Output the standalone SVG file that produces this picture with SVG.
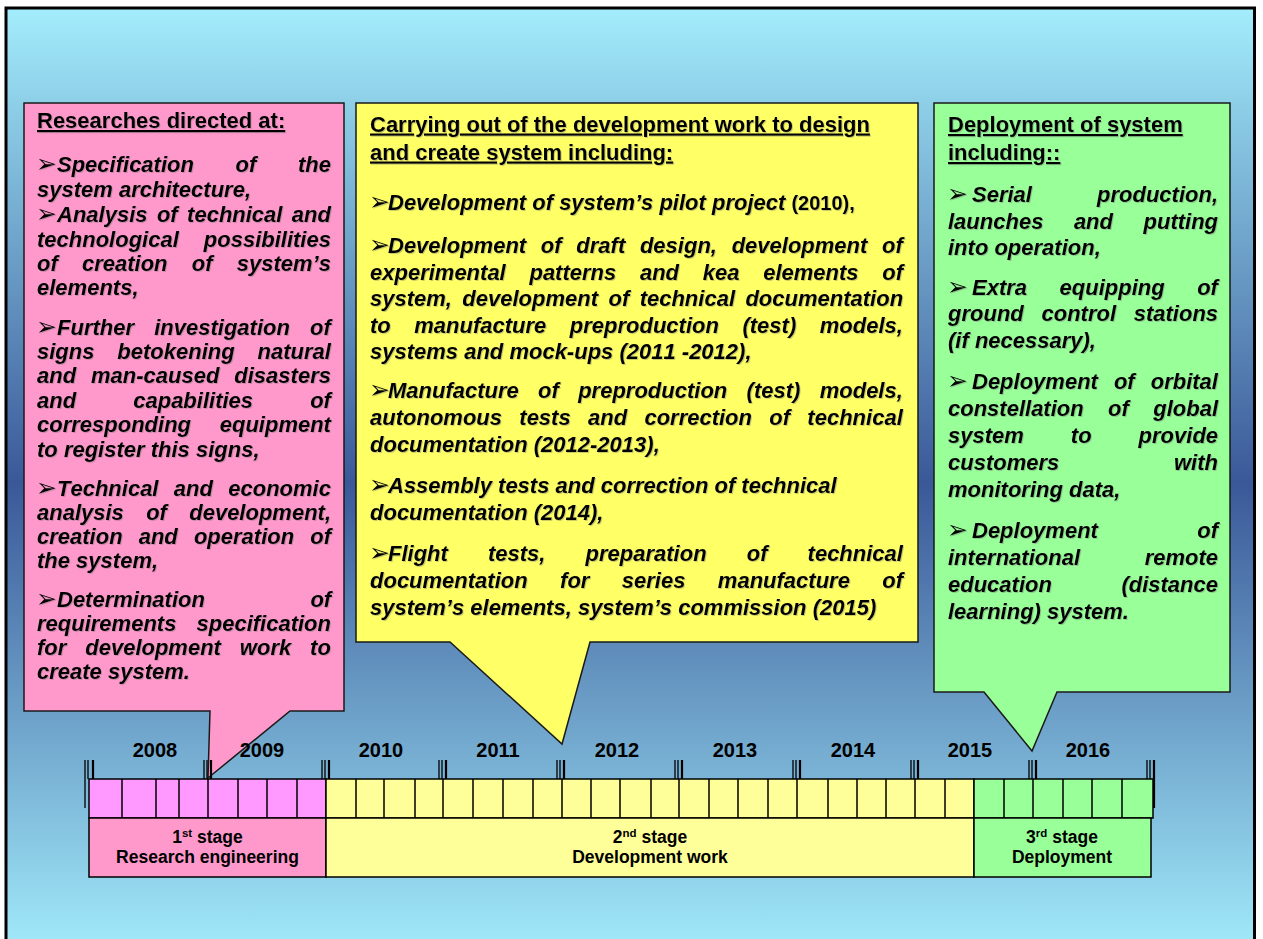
<svg xmlns="http://www.w3.org/2000/svg" width="1263" height="939" viewBox="0 0 1263 939">
<defs>
<linearGradient id="bg" x1="0" y1="0" x2="0" y2="1">
<stop offset="0" stop-color="#A3EDFC"/>
<stop offset="0.5" stop-color="#3A5898"/>
<stop offset="1" stop-color="#A3EDFC"/>
</linearGradient>
<filter id="sh" x="-5%" y="-5%" width="110%" height="110%">
<feDropShadow dx="1" dy="1" stdDeviation="0.6" flood-color="#666" flood-opacity="0.35"/>
</filter>
<style>
.t{font-family:"Liberation Sans",Arial,sans-serif;font-size:22px;font-weight:bold;font-style:italic;fill:#000;font-kerning:none}
.h{font-family:"Liberation Sans",Arial,sans-serif;font-size:22px;font-weight:bold;fill:#000;text-decoration:underline;font-kerning:none}
.b{font-family:"DejaVu Sans",sans-serif;font-size:25px;fill:#000}
.yr{font-family:"Liberation Sans",Arial,sans-serif;font-size:20px;font-weight:bold;fill:#000;text-anchor:middle}
.st{font-family:"Liberation Sans",Arial,sans-serif;font-size:17.5px;font-weight:bold;fill:#000;text-anchor:middle}
.box{stroke:#1a1a1a;stroke-width:1.5;stroke-linejoin:miter}
.cell{stroke:#000;stroke-width:1.5}
.tk{stroke:#000;stroke-width:1.3}
.tk2{stroke:#000;stroke-width:2.2}
</style>
</defs>
<rect x="6" y="8" width="1248.5" height="950" fill="url(#bg)" stroke="#000" stroke-width="3"/>

<g id="connectors"></g>

<g id="stage1-callout">
<path class="box" fill="#FF99CC" d="M24,103 H344 V711 H290 L208,778 L210,711 H24 Z"/>
<g filter="url(#sh)">
<text class="h" x="37" y="128">Researches directed at:</text>
<text class="b" x="36" y="172">➢</text><text class="t" x="57" y="172" word-spacing="35.5">Specification of the</text>
<text class="t" x="37" y="197">system architecture,</text>
<text class="b" x="36" y="222">➢</text><text class="t" x="57" y="222" word-spacing="3.3">Analysis of technical and</text>
<text class="t" x="37" y="247" word-spacing="18.9">technological possibilities</text>
<text class="t" x="37" y="271" word-spacing="18.1">of creation of system’s</text>
<text class="t" x="37" y="295">elements,</text>
<text class="b" x="36" y="335">➢</text><text class="t" x="57" y="335" word-spacing="14.1">Further investigation of</text>
<text class="t" x="37" y="359" word-spacing="16.8">signs betokening natural</text>
<text class="t" x="37" y="383" word-spacing="8.8">and man-caused disasters</text>
<text class="t" x="37" y="408" word-spacing="51">and capabilities of</text>
<text class="t" x="37" y="432" word-spacing="22.6">corresponding equipment</text>
<text class="t" x="37" y="457">to register this signs,</text>
<text class="b" x="36" y="496">➢</text><text class="t" x="57" y="496" word-spacing="9.2">Technical and economic</text>
<text class="t" x="37" y="520" word-spacing="16.2">analysis of development,</text>
<text class="t" x="37" y="544" word-spacing="10">creation and operation of</text>
<text class="t" x="37" y="568">the system,</text>
<text class="b" x="36" y="607">➢</text><text class="t" x="57" y="607" word-spacing="99.4">Determination of</text>
<text class="t" x="37" y="631" word-spacing="14">requirements specification</text>
<text class="t" x="37" y="655" word-spacing="12.8">for development work to</text>
<text class="t" x="37" y="679">create system.</text>
</g>
</g>

<g id="stage2-callout">
<path class="box" fill="#FFFF66" d="M356,103 H918 V642 H590 L562,744 L450,642 H356 Z"/>
<g filter="url(#sh)">
<text class="h" x="370" y="131.5">Carrying out of the development work to design</text>
<text class="h" x="370" y="159.5">and create system including:</text>
<text class="b" x="369" y="210">➢</text><text class="t" x="388" y="210">Development of system’s pilot project <tspan font-style="normal" font-size="20">(2010),</tspan></text>
<text class="b" x="369" y="253">➢</text><text class="t" x="388" y="253" word-spacing="8.6">Development of draft design, development of</text>
<text class="t" x="370" y="280" word-spacing="17.6">experimental patterns and kea elements of</text>
<text class="t" x="370" y="306" word-spacing="4.3">system, development of technical documentation</text>
<text class="t" x="370" y="333" word-spacing="17.4">to manufacture preproduction (test) models,</text>
<text class="t" x="370" y="359">systems and mock-ups (2011 -2012),</text>
<text class="b" x="369" y="398">➢</text><text class="t" x="388" y="398" word-spacing="13.2">Manufacture of preproduction (test) models,</text>
<text class="t" x="370" y="425" word-spacing="11.2">autonomous tests and correction of technical</text>
<text class="t" x="370" y="452">documentation (2012-2013),</text>
<text class="b" x="369" y="493">➢</text><text class="t" x="388" y="493">Assembly tests and correction of technical</text>
<text class="t" x="370" y="520">documentation (2014),</text>
<text class="b" x="369" y="561">➢</text><text class="t" x="388" y="561" word-spacing="34">Flight tests, preparation of technical</text>
<text class="t" x="370" y="588" word-spacing="26.3">documentation for series manufacture of</text>
<text class="t" x="370" y="615">system’s elements, system’s commission (2015)</text>
</g>
</g>

<g id="stage3-callout">
<path class="box" fill="#99FF99" d="M934,103 H1230 V692 H1057 L1032,751 L984,692 H934 Z"/>
<g filter="url(#sh)">
<text class="h" x="948" y="132">Deployment of system</text>
<text class="h" x="948" y="160">including::</text>
<text class="b" x="947" y="202">➢</text><text class="t" x="972" y="202" word-spacing="59">Serial production,</text>
<text class="t" x="948" y="228.5" word-spacing="24.4">launches and putting</text>
<text class="t" x="948" y="255">into operation,</text>
<text class="b" x="947" y="294.5">➢</text><text class="t" x="972" y="294.5" word-spacing="26.4">Extra equipping of</text>
<text class="t" x="948" y="321" word-spacing="11.6">ground control stations</text>
<text class="t" x="948" y="348">(if necessary),</text>
<text class="b" x="947" y="388.5">➢</text><text class="t" x="972" y="388.5" word-spacing="9.9">Deployment of orbital</text>
<text class="t" x="948" y="416" word-spacing="18.3">constellation of global</text>
<text class="t" x="948" y="443" word-spacing="40.9">system to provide</text>
<text class="t" x="948" y="470" word-spacing="108.6">customers with</text>
<text class="t" x="948" y="497">monitoring data,</text>
<text class="b" x="947" y="538">➢</text><text class="t" x="972" y="538" word-spacing="93.2">Deployment of</text>
<text class="t" x="948" y="565" word-spacing="58.6">international remote</text>
<text class="t" x="948" y="592" word-spacing="63.4">education (distance</text>
<text class="t" x="948" y="619">learning) system.</text>
</g>
</g>

<g id="timeline">
<g id="years">
<text class="yr" x="155" y="757">2008</text>
<text class="yr" x="262" y="757">2009</text>
<text class="yr" x="381" y="757">2010</text>
<text class="yr" x="498" y="757">2011</text>
<text class="yr" x="617" y="757">2012</text>
<text class="yr" x="735" y="757">2013</text>
<text class="yr" x="853" y="757">2014</text>
<text class="yr" x="970" y="757">2015</text>
<text class="yr" x="1088" y="757">2016</text>
</g>
<g id="ticks">
<line class="tk" x1="85" y1="760" x2="85" y2="808"/><line class="tk" x1="88" y1="760" x2="88" y2="779"/><line class="tk2" x1="93" y1="760" x2="93" y2="779"/>
<line class="tk" x1="204" y1="760" x2="204" y2="779"/><line class="tk" x1="207" y1="760" x2="207" y2="779"/><line class="tk2" x1="211" y1="760" x2="211" y2="779"/>
<line class="tk" x1="322" y1="760" x2="322" y2="779"/><line class="tk" x1="325" y1="760" x2="325" y2="779"/><line class="tk2" x1="329" y1="760" x2="329" y2="779"/>
<line class="tk" x1="439" y1="760" x2="439" y2="779"/><line class="tk" x1="442" y1="760" x2="442" y2="779"/><line class="tk2" x1="446" y1="760" x2="446" y2="779"/>
<line class="tk" x1="557" y1="760" x2="557" y2="779"/><line class="tk" x1="560" y1="760" x2="560" y2="779"/><line class="tk2" x1="564" y1="760" x2="564" y2="779"/>
<line class="tk" x1="675" y1="760" x2="675" y2="779"/><line class="tk" x1="678" y1="760" x2="678" y2="779"/><line class="tk2" x1="682" y1="760" x2="682" y2="779"/>
<line class="tk" x1="793" y1="760" x2="793" y2="779"/><line class="tk" x1="796" y1="760" x2="796" y2="779"/><line class="tk2" x1="800" y1="760" x2="800" y2="779"/>
<line class="tk" x1="911" y1="760" x2="911" y2="779"/><line class="tk" x1="914" y1="760" x2="914" y2="779"/><line class="tk2" x1="918" y1="760" x2="918" y2="779"/>
<line class="tk" x1="1029" y1="760" x2="1029" y2="779"/><line class="tk" x1="1032" y1="760" x2="1032" y2="779"/><line class="tk2" x1="1036" y1="760" x2="1036" y2="779"/>
<line class="tk" x1="1147" y1="760" x2="1147" y2="779"/><line class="tk" x1="1150" y1="760" x2="1150" y2="779"/><line class="tk2" x1="1154" y1="760" x2="1154" y2="808"/>
</g>
<g id="cells">
<rect class="cell" x="89" y="779" width="237" height="39" fill="#FF99FF"/>
<rect class="cell" x="326" y="779" width="648" height="39" fill="#FFFF99"/>
<rect class="cell" x="974" y="779" width="179" height="39" fill="#99FF99"/>
<path class="cell" fill="none" d="M122,779V818M156,779V818M179,779V818M208,779V818M238,779V818M267,779V818M297,779V818
M356,779V818M384,779V818M415,779V818M443,779V818M473,779V818M503,779V818M533,779V818M562,779V818M591,779V818M620,779V818M651,779V818M679,779V818M709,779V818M738,779V818M768,779V818M797,779V818M828,779V818M857,779V818M886,779V818M915,779V818M945,779V818
M1004,779V818M1033,779V818M1063,779V818M1092,779V818M1122,779V818"/>
</g>
<g id="stage1">
<rect class="cell" x="89" y="818" width="237" height="59" fill="#FF99CC"/>
<text class="st" x="207.5" y="843">1<tspan font-size="11.5" dy="-6">st</tspan><tspan dy="6"> stage</tspan></text>
<text class="st" x="207.5" y="863">Research engineering</text>
</g>
<g id="stage2">
<rect class="cell" x="326" y="818" width="648" height="59" fill="#FFFF99"/>
<text class="st" x="650" y="843">2<tspan font-size="11.5" dy="-6">nd</tspan><tspan dy="6"> stage</tspan></text>
<text class="st" x="650" y="863">Development work</text>
</g>
<g id="stage3">
<rect class="cell" x="974" y="818" width="177" height="59" fill="#99FF99"/>
<text class="st" x="1062" y="843">3<tspan font-size="11.5" dy="-6">rd</tspan><tspan dy="6"> stage</tspan></text>
<text class="st" x="1062" y="863">Deployment</text>
</g>
</g>
</svg>
